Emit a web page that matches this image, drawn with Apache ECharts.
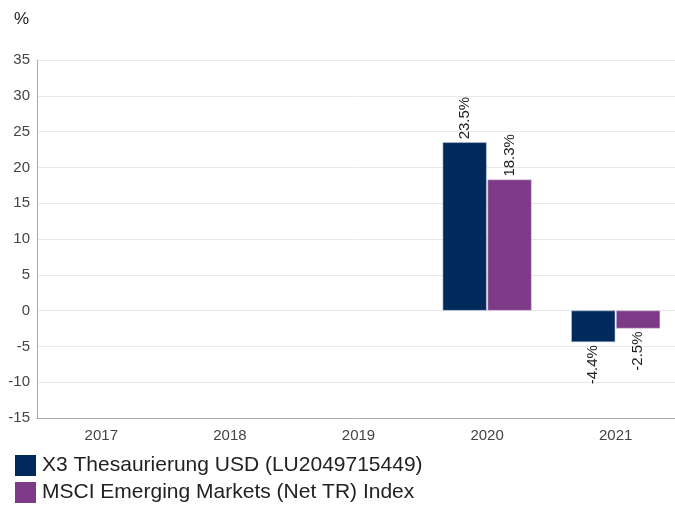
<!doctype html>
<html>
<head>
    <meta charset="utf-8">
    <script src="https://cdn.jsdelivr.net/npm/echarts@6/dist/echarts.min.js"></script>
</head>
<body style="margin: 0; overflow: hidden">
    <div id="container" style="width: 680px; height: 506px"></div>
    <script type="text/javascript">
        var years = ['2017', '2018', '2019', '2020', '2021'];
        var fundName = 'X3 Thesaurierung USD (LU2049715449)';
        var indexName = 'MSCI Emerging Markets (Net TR) Index';
        var fundValues = [null, null, null, 23.5, -4.4];
        var indexValues = [null, null, null, 18.3, -2.5];

        function withLabels(values) {
            return values.map(function (v) {
                if (v === null) return null;
                return {
                    value: v,
                    label: {
                        position: v >= 0 ? 'top' : 'bottom',
                        align: v >= 0 ? 'left' : 'right'
                    }
                };
            });
        }

        var labelStyle = {
            show: true,
            rotate: 90,
            verticalAlign: 'middle',
            distance: 3,
            fontSize: 15,
            color: '#222',
            fontFamily: 'Liberation Sans',
            formatter: function (p) { return p.value.toFixed(1) + '%'; }
        };

        var myChart = echarts.init(document.getElementById('container'));
        var option = {
            animation: false,
            textStyle: { fontFamily: 'Liberation Sans' },
            title: {
                text: '%',
                left: 9,
                top: 6,
                textStyle: { fontSize: 17, fontWeight: 'normal', color: '#222', fontFamily: 'Liberation Sans' }
            },
            grid: { left: 37, right: 0, top: 60, bottom: 88 },
            legend: {
                orient: 'vertical',
                left: 15,
                top: 455,
                padding: 0,
                itemWidth: 21,
                itemHeight: 21,
                itemGap: 6,
                icon: 'rect',
                itemStyle: { borderWidth: 0 },
                textStyle: { fontSize: 21, color: '#222', fontFamily: 'Liberation Sans', padding: [0, 0, 0, 1] },
                data: [fundName, indexName]
            },
            xAxis: {
                type: 'category',
                data: years,
                axisLine: { onZero: false, lineStyle: { color: '#aaa' } },
                axisTick: { show: false },
                axisLabel: { fontSize: 15, color: '#444', margin: 10 }
            },
            yAxis: {
                type: 'value',
                min: -15,
                max: 35,
                interval: 5,
                axisLine: { show: true, lineStyle: { color: '#aaa' } },
                axisTick: { show: false },
                axisLabel: { fontSize: 15, color: '#444', margin: 7 },
                splitLine: { lineStyle: { color: '#e8e8e8' } }
            },
            series: [
                {
                    name: fundName,
                    type: 'bar',
                    barWidth: 44,
                    barGap: '2%',
                    itemStyle: { color: '#002a5c', borderColor: '#c8cbe0', borderWidth: 0.5 },
                    label: labelStyle,
                    data: withLabels(fundValues)
                },
                {
                    name: indexName,
                    type: 'bar',
                    barWidth: 44,
                    barGap: '2%',
                    itemStyle: { color: '#7d3a87', borderColor: '#d8c8dc', borderWidth: 0.5 },
                    label: labelStyle,
                    data: withLabels(indexValues)
                }
            ]
        };
        myChart.setOption(option);
    </script>
</body>
</html>
